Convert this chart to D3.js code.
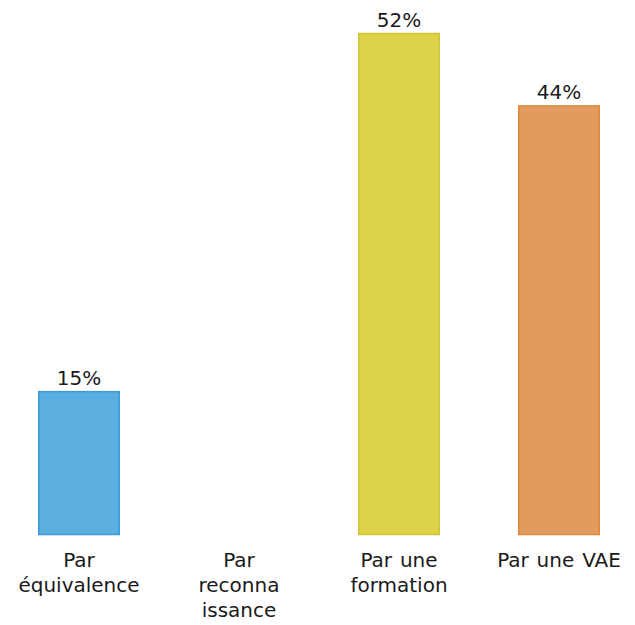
<!DOCTYPE html>
<meta charset="utf-8">
<style>
  body { margin: 0; background: #fff; }
  text { font-family: "DejaVu Sans", Verdana, sans-serif; fill: #1a1a1a; word-spacing: 1.5px; }
</style>
<svg width="635" height="625"></svg>
<script src="https://d3js.org/d3.v7.min.js"></script>
<script>
// answers (share of respondents, %), several answers allowed
var categories = ["Par\néquivalence", "Par\nreconna\nissance", "Par une\nformation", "Par une VAE"]
var values = [14.8, 0, 51.9, 44.4]
var fills = ["#5aafe0", "#d9d9d9", "#ddd34a", "#e29a5e"]
var strokes = ["#3b9bd9", "#bbbbbb", "#cfc536", "#e0893b"]

var svg = d3.select("svg")

var x = d3.scaleBand()
  .domain(categories)
  .range([0, 638])
  .paddingInner(0.4875)
  .paddingOuter(0.2375)

var y = d3.scaleLinear()
  .domain([0, d3.max(values)])
  .range([534.5, 33.5])

var fmt = function (v) { return Math.round(v) + "%" }

var bars = svg.append("g")
var labels = svg.append("g")
var axis = svg.append("g")

categories.forEach(function (c, i) {
  if (values[i] <= 0) return
  bars.append("rect")
    .attr("x", x(c) + 0.75)
    .attr("y", y(values[i]))
    .attr("width", x.bandwidth() - 1.5)
    .attr("height", y(0) - y(values[i]))
    .attr("fill", fills[i])
    .attr("stroke", strokes[i])
    .attr("stroke-width", 1.5)

  labels.append("text")
    .attr("x", x(c) + x.bandwidth() / 2)
    .attr("y", y(values[i]) - 7)
    .attr("text-anchor", "middle")
    .attr("font-size", 20)
    .text(fmt(values[i]))
})

// category names, wrapped on several lines
categories.forEach(function (c) {
  var t = axis.append("text")
    .attr("x", x(c) + x.bandwidth() / 2)
    .attr("y", 567)
    .attr("text-anchor", "middle")
    .attr("font-size", 20)
  c.split("\n").forEach(function (line, j) {
    t.append("tspan")
      .attr("x", x(c) + x.bandwidth() / 2)
      .attr("y", 567 + j * 25)
      .text(line)
  })
})
</script>
